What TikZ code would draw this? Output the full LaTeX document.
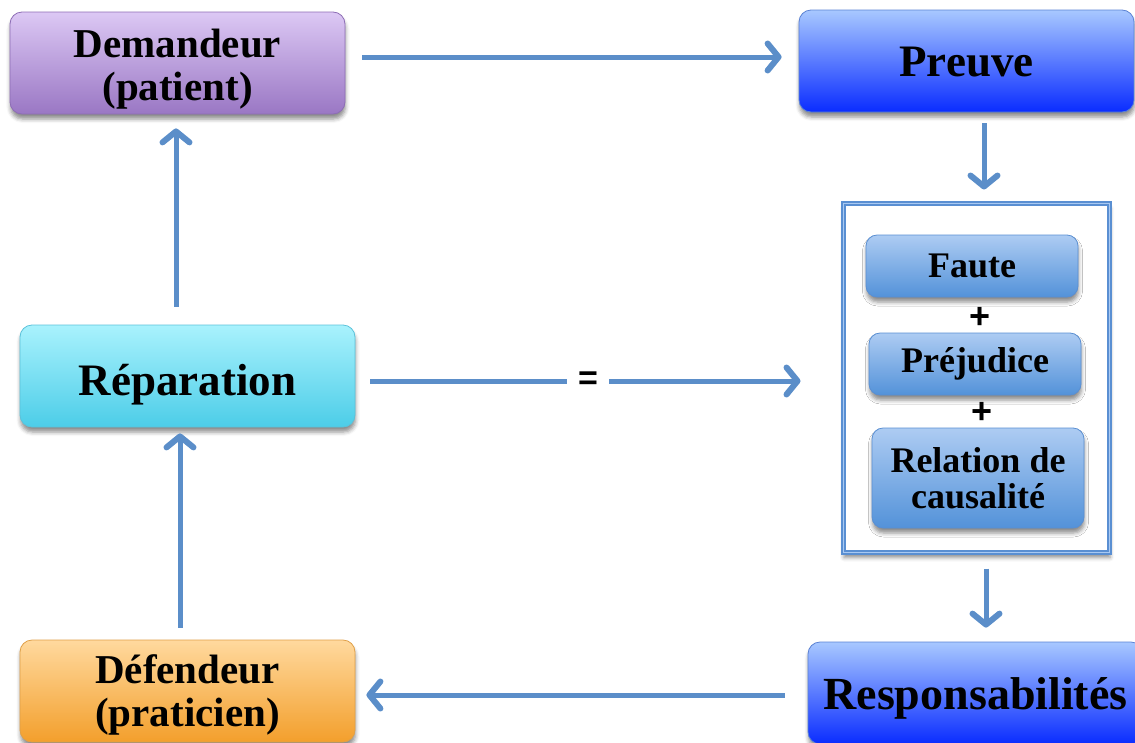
\documentclass[tikz,border=0pt]{standalone}
\usepackage{fontspec}
\setmainfont{Liberation Serif}
\newfontfamily\symfont{Liberation Sans}
\usetikzlibrary{arrows.meta,shadows.blur,calc}

\definecolor{arrowblue}{HTML}{5B8EC9}
\definecolor{framedark}{HTML}{5A8FD2}
\definecolor{framelight}{HTML}{A9C9F2}
\definecolor{smallbottom}{HTML}{5392D9}
\definecolor{purpleline}{HTML}{8D6DB5}
\definecolor{purpletop}{HTML}{DCC8F4}
\definecolor{purplebottom}{HTML}{9A77C4}
\definecolor{blueline}{HTML}{5B82D4}
\definecolor{bluetop}{HTML}{A8C8FF}
\definecolor{bluebottom}{HTML}{0A2CFF}
\definecolor{cyanline}{HTML}{5CC2DA}
\definecolor{cyantop}{HTML}{A9F2FD}
\definecolor{cyanbottom}{HTML}{4CCDE8}
\definecolor{orangeline}{HTML}{E0A048}
\definecolor{orangetop}{HTML}{FFD99E}
\definecolor{orangebottom}{HTML}{F39F2C}

% lower a line of text without changing the box it occupies
\newcommand{\lowerby}[2]{\raisebox{-#1}[\height][\depth]{#2}}

\tikzset{
  softshadow/.style={blur shadow={shadow xshift=0.5pt, shadow yshift=-5pt,
      shadow blur radius=4pt, shadow opacity=45}},
  bigbox/.style={rounded corners=12pt, minimum width=335pt, minimum height=102pt,
      inner sep=0pt, align=center, line width=0.8pt, softshadow,
      font=\bfseries\fontsize{41}{43}\selectfont},
  smallbox/.style={rounded corners=11pt, minimum width=212pt, inner sep=0pt,
      align=center, line width=0.8pt, draw=framedark,
      top color=framelight!95!white, bottom color=smallbottom, softshadow,
      font=\bfseries\fontsize{36}{36}\selectfont},
  purplebox/.style={bigbox, draw=purpleline, top color=purpletop, bottom color=purplebottom},
  bluebox/.style={bigbox, draw=blueline, top color=bluetop, bottom color=bluebottom},
  cyanbox/.style={bigbox, draw=cyanline, top color=cyantop, bottom color=cyanbottom},
  orangebox/.style={bigbox, draw=orangeline, top color=orangetop, bottom color=orangebottom},
  plus/.style={font=\symfont\bfseries\fontsize{36}{36}\selectfont, inner sep=0pt},
  arr/.style={draw=arrowblue, line width=5pt,
      -{Straight Barb[length=11pt, width=27pt, line width=6pt 0, round]}},
  seg/.style={draw=arrowblue, line width=5pt},
}

\begin{document}
\begin{tikzpicture}[x=1pt, y=-1pt]
\useasboundingbox (0,0) rectangle (1135,742);

% main boxes
\node[purplebox] (dem) at (177.5,63)
  {\lowerby{6pt}{Demandeur}\\\lowerby{6pt}{(patient)}};
\node[bluebox, font=\bfseries\fontsize{45}{45}\selectfont] (preuve) at (966.5,61)
  {\lowerby{1pt}{Preuve}};
\node[cyanbox, font=\bfseries\fontsize{45}{45}\selectfont] (rep) at (187.5,376)
  {\lowerby{9pt}{Réparation}};
\node[orangebox] (def) at (187.5,691)
  {\lowerby{4pt}{Défendeur}\\\lowerby{4pt}{(praticien)}};
\node[bluebox, font=\bfseries\fontsize{46}{46}\selectfont] (resp) at (975.5,693)
  {\lowerby{5pt}{Responsabilités}};

% framed group of conditions
\node[draw=framedark, double=framelight, line width=2pt, double distance=1.6pt,
      fill=white, minimum width=266pt, minimum height=349pt, inner sep=0pt,
      softshadow] (frame) at (976.5,378) {};
\node[smallbox, minimum height=62pt] (faute) at (972,266) {Faute};
\node[plus] (p1) at (980,318) {+};
\node[smallbox, minimum height=62pt] (prej) at (975,364) {Préjudice};
\node[plus] (p2) at (982,413) {+};
\node[smallbox, minimum height=100pt] (rel) at (978,478) {Relation de\\causalité};

% equality sign on the middle connector
\node[font=\symfont\bfseries\fontsize{34}{34}\selectfont, minimum width=42pt,
      inner sep=0pt] (eq) at (588,381) {=};

% connectors
\draw[arr, shorten <=17pt, shorten >=17pt]
  ([yshift=6pt]dem.east) -- ([yshift=4pt]preuve.west);
\draw[arr, shorten <=11pt, shorten >=13pt]
  ([xshift=17.5pt]preuve.south) -- ([xshift=7.5pt]frame.north);
\draw[seg, shorten <=15pt] (rep.east |- eq.west) -- (eq.west);
\draw[arr, shorten >=42pt] (eq.east) -- (eq.east -| frame.west);
\draw[arr, shorten <=15pt, shorten >=14pt]
  ([xshift=9.5pt]frame.south) -- ([xshift=10.5pt]resp.north);
\draw[arr, shorten <=23pt, shorten >=11pt]
  ([yshift=-2pt]resp.west) -- ([yshift=-4pt]def.east);
\draw[arr, shorten <=12pt, shorten >=6pt]
  ([xshift=-7.5pt]def.north) -- ([xshift=-7.5pt]rep.south);
\draw[arr, shorten <=18pt, shorten >=14pt]
  ([xshift=-11.5pt]rep.north) -- ([xshift=-1.5pt]dem.south);
\end{tikzpicture}
\end{document}
